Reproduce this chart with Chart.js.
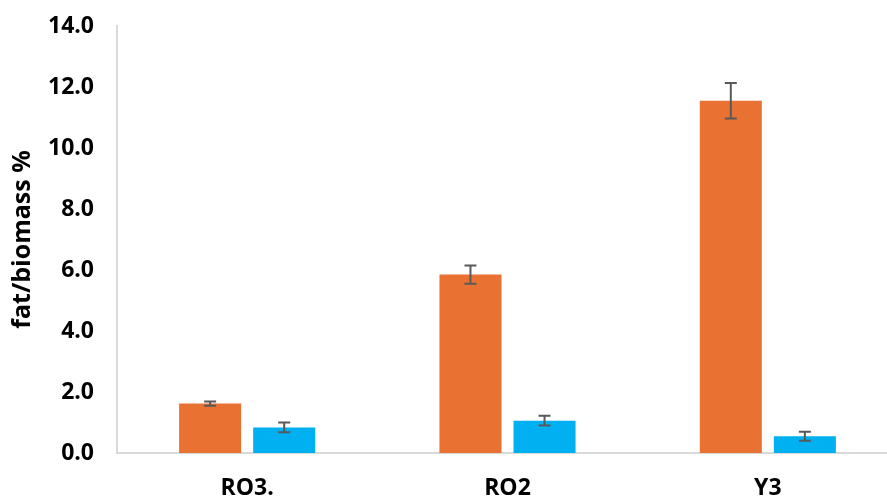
<!DOCTYPE html>
<html>
<head>
<meta charset="utf-8">
<script src="https://cdn.jsdelivr.net/npm/chart.js@4/dist/chart.umd.min.js"></script>
<style>
  html, body { margin: 0; padding: 0; background: #fff; overflow: hidden; }
  #wrap { width: 898px; height: 498px; }
</style>
</head>
<body>
<div id="wrap"><canvas id="fatChart"></canvas></div>
<script>
const strains = ['RO3.', 'RO2', 'Y3'];
const fatA = [1.62, 5.85, 11.55];
const fatAErr = [0.07, 0.30, 0.58];
const fatB = [0.84, 1.06, 0.55];
const fatBErr = [0.16, 0.16, 0.15];
const yTicks = [0, 2, 4, 6, 8, 10, 12, 14];

// draws the +/- whiskers on top of each bar
const errorBars = {
    id: 'errorBars',
    afterDatasetsDraw(chart) {
        const ctx = chart.ctx;
        const y = chart.scales.y;
        ctx.save();
        ctx.strokeStyle = '#595959';
        ctx.lineWidth = 2;
        chart.data.datasets.forEach((ds, i) => {
            const meta = chart.getDatasetMeta(i);
            meta.data.forEach((bar, j) => {
                const v = ds.data[j], e = ds.errors[j];
                const top = y.getPixelForValue(v + e);
                const bot = y.getPixelForValue(v - e);
                ctx.beginPath();
                ctx.moveTo(bar.x, top); ctx.lineTo(bar.x, bot);
                ctx.moveTo(bar.x - 6, top); ctx.lineTo(bar.x + 6, top);
                ctx.moveTo(bar.x - 6, bot); ctx.lineTo(bar.x + 6, bot);
                ctx.stroke();
            });
        });
        ctx.restore();
    }
};

const font = { family: '"Open Sans", sans-serif', size: 23, weight: 'bold' };
const titleFont = { family: '"Open Sans", sans-serif', size: 25, weight: 'bold' };

new Chart(document.getElementById('fatChart'), {
    type: 'bar',
    data: {
        labels: strains,
        datasets: [{
            label: 'A',
            data: fatA,
            errors: fatAErr,
            backgroundColor: '#E97132',
            categoryPercentage: 0.569,
            barPercentage: 0.838
        }, {
            label: 'B',
            data: fatB,
            errors: fatBErr,
            backgroundColor: '#00B0F0',
            categoryPercentage: 0.569,
            barPercentage: 0.838
        }]
    },
    options: {
        responsive: true,
        maintainAspectRatio: false,
        animation: false,
        layout: { padding: { top: 26, right: 0, left: 0, bottom: 0 } },
        plugins: {
            legend: { display: false },
            tooltip: { enabled: false }
        },
        scales: {
            x: {
                grid: { display: false, drawTicks: false },
                border: { color: '#D9D9D9', width: 2 },
                ticks: { color: '#000', font: font, padding: 22 },
                afterFit(s) { s.height = 45; }
            },
            y: {
                min: 0,
                max: 14,
                afterBuildTicks(s) { s.ticks = yTicks.map(v => ({ value: v })); },
                grid: { display: false, drawTicks: false },
                border: { color: '#D9D9D9', width: 2 },
                ticks: {
                    color: '#000',
                    font: font,
                    padding: 23,
                    callback: v => Number(v).toFixed(1)
                },
                title: {
                    display: true,
                    text: 'fat/biomass %',
                    color: '#000',
                    font: titleFont,
                    padding: { top: 8, bottom: 0 }
                },
                afterFit(s) {
                    s.width = 117;
                    // tick padding shouldn't push the plot down
                    s.paddingTop = 0;
                    s.paddingBottom = 0;
                }
            }
        }
    },
    plugins: [errorBars]
});
</script>
</body>
</html>
